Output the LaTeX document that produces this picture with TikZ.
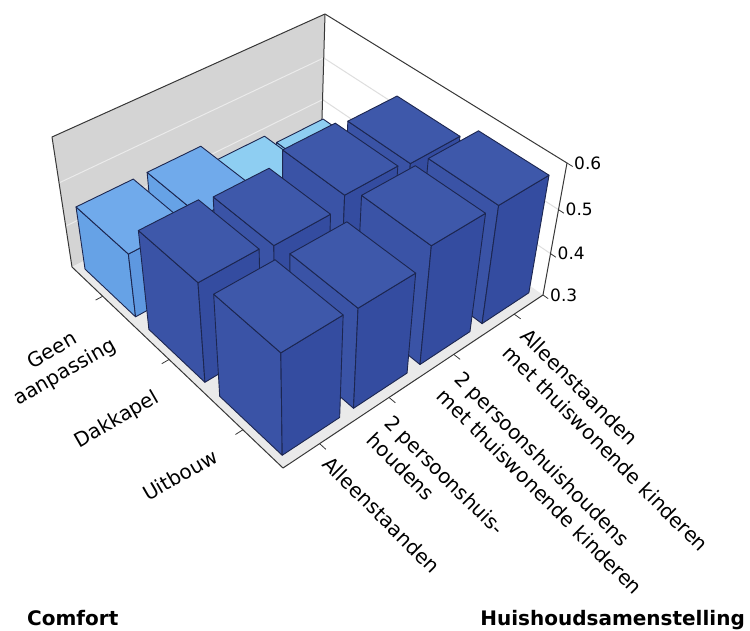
\documentclass[tikz,border=0pt]{standalone}
\usepackage{fontspec}
\setmainfont{DejaVu Sans}

% ---------- colours ----------
\definecolor{wallgray}{RGB}{212,212,212}
\definecolor{floorc}{RGB}{234,234,234}
\definecolor{gridc}{RGB}{222,222,222}
\definecolor{boxline}{RGB}{55,55,55}
\definecolor{edgec}{RGB}{28,38,80}
\definecolor{darktop}{RGB}{62,88,170}
\definecolor{darkside}{RGB}{58,83,166}
\definecolor{darkfront}{RGB}{52,76,160}
\definecolor{midtop}{RGB}{112,170,235}
\definecolor{midside}{RGB}{102,162,230}
\definecolor{midfront}{RGB}{94,152,224}
\definecolor{lighttop}{RGB}{142,206,242}
\definecolor{lightside}{RGB}{130,197,238}
\definecolor{lightfront}{RGB}{120,188,234}

% ---------- projection helpers ----------
% \homog{prefix}{x0}{y0}{x1}{y1}{x2}{y2}{x3}{y3}
% maps the unit square (0,0),(1,0),(1,1),(0,1) onto the given quadrilateral
\newcommand\homog[9]{%
  \edef\hmsx{\fpeval{(#2)-(#4)+(#6)-(#8)}}%
  \edef\hmsy{\fpeval{(#3)-(#5)+(#7)-(#9)}}%
  \edef\hmdxa{\fpeval{(#4)-(#6)}}%
  \edef\hmdxb{\fpeval{(#8)-(#6)}}%
  \edef\hmdya{\fpeval{(#5)-(#7)}}%
  \edef\hmdyb{\fpeval{(#9)-(#7)}}%
  \edef\hmden{\fpeval{(\hmdxa)*(\hmdyb)-(\hmdxb)*(\hmdya)}}%
  \edef\hmG{\fpeval{((\hmsx)*(\hmdyb)-(\hmdxb)*(\hmsy))/(\hmden)}}%
  \edef\hmH{\fpeval{((\hmdxa)*(\hmsy)-(\hmsx)*(\hmdya))/(\hmden)}}%
  \expandafter\edef\csname #1g\endcsname{\hmG}%
  \expandafter\edef\csname #1h\endcsname{\hmH}%
  \expandafter\edef\csname #1a\endcsname{\fpeval{(#4)-(#2)+(\hmG)*(#4)}}%
  \expandafter\edef\csname #1b\endcsname{\fpeval{(#8)-(#2)+(\hmH)*(#8)}}%
  \expandafter\edef\csname #1c\endcsname{\fpeval{#2}}%
  \expandafter\edef\csname #1d\endcsname{\fpeval{(#5)-(#3)+(\hmG)*(#5)}}%
  \expandafter\edef\csname #1e\endcsname{\fpeval{(#9)-(#3)+(\hmH)*(#9)}}%
  \expandafter\edef\csname #1f\endcsname{\fpeval{#3}}%
}
% vertical vanishing point (screen y, pointing down)
\def\vpy{1686}
% \proj{name}{s}{t}{w}: s = comfort axis, t = household axis, w = height (0..1)
\newcommand\proj[4]{%
  \edef\pjd{\fpeval{(\flg)*(#2)+(\flh)*(#3)+1}}%
  \edef\pjxa{\fpeval{((\fla)*(#2)+(\flb)*(#3)+(\flc))/(\pjd)}}%
  \edef\pjya{\fpeval{((\fld)*(#2)+(\fle)*(#3)+(\flf))/(\pjd)}}%
  \edef\pjd{\fpeval{(\tpg)*(#2)+(\tph)*(#3)+1}}%
  \edef\pjxb{\fpeval{((\tpa)*(#2)+(\tpb)*(#3)+(\tpc))/(\pjd)}}%
  \edef\pjyb{\fpeval{((\tpd)*(#2)+(\tpe)*(#3)+(\tpf))/(\pjd)}}%
  \edef\pjk{\fpeval{(\vpy-(\pjyb))/(\vpy-(\pjya))}}%
  \edef\pjl{\fpeval{(1/(1+(#4)*(1/(\pjk)-1))-1)/((\pjk)-1)}}%
  \edef\pjx{\fpeval{round((\pjxa)+(\pjl)*((\pjxb)-(\pjxa)),2)}}%
  \edef\pjy{\fpeval{round((\pjya)+(\pjl)*((\pjyb)-(\pjya)),2)}}%
  \coordinate (#1) at (\pjx,\pjy);%
}
% \drawbox{s0}{s1}{t0}{t1}{w}{colour prefix}
\newcommand\drawbox[6]{%
  \proj{bA}{#1}{#3}{0}\proj{bB}{#2}{#3}{0}\proj{bC}{#2}{#4}{0}%
  \proj{bD}{#1}{#3}{#5}\proj{bE}{#2}{#3}{#5}\proj{bF}{#2}{#4}{#5}\proj{bG}{#1}{#4}{#5}%
  \filldraw[baredge, fill=#6side] (bA) -- (bB) -- (bE) -- (bD) -- cycle;
  \filldraw[baredge, fill=#6front] (bB) -- (bC) -- (bF) -- (bE) -- cycle;
  \filldraw[baredge, fill=#6top] (bD) -- (bE) -- (bF) -- (bG) -- cycle;
}
% \cellbar{row}{column}{value}{colour prefix}
\newcommand\cellbar[4]{%
  \drawbox{(#1+0.1)/3}{(#1+0.9)/3}{(#2+0.1)/4}{(#2+0.9)/4}{((#3)-0.3)/0.3}{#4}}

\begin{document}
\begin{tikzpicture}[x=1pt,y=-1pt,
  baredge/.style={draw=edgec, line width=0.9pt, line join=round},
  frame/.style={draw=boxline, line width=1pt, line join=round},
  catlab/.style={font=\fontsize{20}{25}\selectfont, align=center, inner sep=0pt},
  hhlab/.style={font=\fontsize{20}{25}\selectfont, align=left, inner sep=0pt,
                anchor=north west, rotate=-45},
  ticklab/.style={font=\fontsize{17}{20}\selectfont, anchor=west, inner sep=1pt},
  title/.style={font=\fontsize{20}{24}\selectfont\bfseries, inner sep=0pt}]
\useasboundingbox (0,0) rectangle (750,630);

% floor (value 0.3) and ceiling (value 0.6) of the plot box
\homog{fl}{72}{267}{283}{468}{543}{295}{321.4}{139.2}
\homog{tp}{52}{137}{281.2}{334.1}{567}{163}{325}{14}

\proj{L0}{0}{0}{0}\proj{F0}{1}{0}{0}\proj{R0}{1}{1}{0}\proj{B0}{0}{1}{0}
\proj{L1}{0}{0}{1}\proj{R1}{1}{1}{1}\proj{B1}{0}{1}{1}

% walls and floor
\fill[wallgray] (L0) -- (B0) -- (B1) -- (L1) -- cycle;
\fill[white] (B0) -- (R0) -- (R1) -- (B1) -- cycle;
\fill[floorc] (L0) -- (F0) -- (R0) -- (B0) -- cycle;

% grid lines at 0.4 and 0.5
\foreach \w in {0.33333,0.66667}{
  \proj{ga}{0}{0}{\w}\proj{gb}{0}{1}{\w}\proj{gc}{1}{1}{\w}
  \draw[white!92!black, line width=1pt] (ga) -- (gb);
  \draw[gridc, line width=1pt] (gb) -- (gc);
}

% frame of the plot box
\draw[frame] (L0) -- (L1) -- (B1) -- (R1) -- (R0);
\draw[frame] (B1) -- (B0);
\draw[frame] (L0) -- (F0) -- (R0);

% category ticks
\foreach \s in {0.16667,0.5,0.83333}{
  \proj{ta}{\s}{0}{0}\proj{tb}{\s}{-0.025}{0}
  \draw[frame, line width=0.8pt] (ta) -- (tb);
}
\foreach \t in {0.125,0.375,0.625,0.875}{
  \proj{ta}{1}{\t}{0}\proj{tb}{1.025}{\t}{0}
  \draw[frame, line width=0.8pt] (ta) -- (tb);
}

% value axis ticks and labels
\foreach \w/\lab in {0/0.3,0.33333/0.4,0.66667/0.5,1/0.6}{
  \proj{va}{1}{1}{\w}\proj{vb}{1.02}{1}{\w}
  \draw[frame, line width=0.8pt] (va) -- (vb);
  \node[ticklab] at ([xshift=6pt]va) {\lab};
}

% bars, back to front
\cellbar{0}{3}{0.37}{light}
\cellbar{0}{2}{0.40}{light}
\cellbar{0}{1}{0.45}{mid}
\cellbar{0}{0}{0.45}{mid}
\cellbar{1}{3}{0.535}{dark}
\cellbar{1}{2}{0.545}{dark}
\cellbar{1}{1}{0.52}{dark}
\cellbar{1}{0}{0.53}{dark}
\cellbar{2}{3}{0.57}{dark}
\cellbar{2}{2}{0.57}{dark}
\cellbar{2}{1}{0.53}{dark}
\cellbar{2}{0}{0.535}{dark}

% category labels
\node[catlab, rotate=30] (cGeen) at (59,362) {Geen\\aanpassing};
\node[catlab, rotate=30] (cDak) at (117,420) {Dakkapel};
\node[catlab, rotate=30] (cUit) at (180,475) {Uitbouw};

\node[hhlab] (hAl) at (332,454) {Alleenstaanden};
\node[hhlab] (hTwee) at (394,413) {2 persoonshuis-\\houdens};
\node[hhlab] (hTweeK) at (464,369) {2 persoonshuishoudens\\met thuiswonende kinderen};
\node[hhlab] (hAlK) at (530,326) {Alleenstaanden\\met thuiswonende kinderen};

% axis titles
\node[title, anchor=base west] (tComfort) at (27,625) {Comfort};
\node[title, anchor=base east] (tHuis) at (745,625) {Huishoudsamenstelling};
\end{tikzpicture}
\end{document}
